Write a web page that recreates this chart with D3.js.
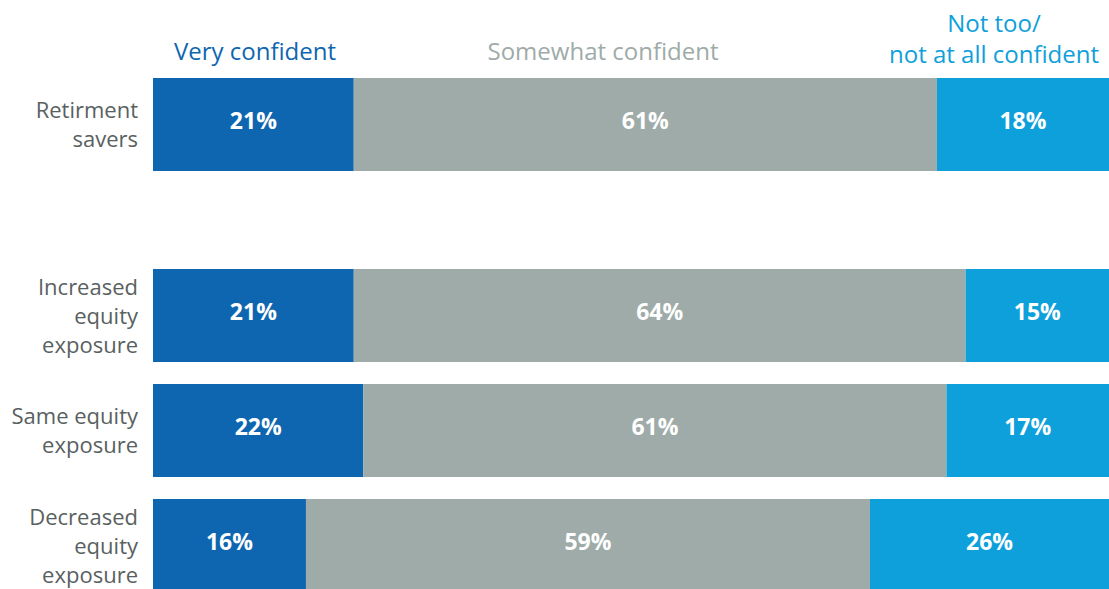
<!DOCTYPE html>
<html>
<head>
<meta charset="utf-8">
<script src="https://cdn.jsdelivr.net/npm/d3@7"></script>
<style>
  html, body { margin: 0; padding: 0; background: #fff; overflow: hidden; }
  svg { display: block; }
  text { font-family: "Open Sans", "Liberation Sans", sans-serif; }
</style>
</head>
<body>
<svg id="chart" width="1109" height="589"></svg>
<script>
// Row labels (multi-line) and confidence shares per row
const categories = [
  ["Retirment", "savers"],
  ["Increased", "equity", "exposure"],
  ["Same equity", "exposure"],
  ["Decreased", "equity", "exposure"]
];
const seriesKeys = ["very", "somewhat", "notToo"];
const seriesNames = [["Very confident"], ["Somewhat confident"], ["Not too/", "not at all confident"]];
const veryConfident = [21, 21, 22, 16];
const somewhatConfident = [61, 64, 61, 59];
const notTooConfident = [18, 15, 17, 26];

const colors = ["#0f66b0", "#9eaba8", "#0ea0db"];

const rows = categories.map((c, i) => ({
  id: i,
  label: c,
  very: veryConfident[i],
  somewhat: somewhatConfident[i],
  notToo: notTooConfident[i]
}));

const W = 1109, H = 589;
const svg = d3.select("#chart");
const left = 153, right = 1109;
const groupGap = 76;

svg.append("defs").append("clipPath").attr("id", "plot-clip")
  .append("rect").attr("x", left).attr("y", 0).attr("width", right - left).attr("height", H);

// Shares in percentage points across the plot width
const x = d3.scaleLinear().domain([0, 100]).range([left, right]);
const y = d3.scaleBand()
  .domain(rows.map(d => d.id))
  .range([78, 78 + 115 * (4 - 22 / 115)])
  .paddingInner(22 / 115)
  .paddingOuter(0);
const rowY = id => y(id) + (id > 0 ? groupGap : 0);

const stack = d3.stack().keys(seriesKeys);
const layers = stack(rows);

const plot = svg.append("g").attr("clip-path", "url(#plot-clip)");

const layerG = plot.selectAll("g.layer")
  .data(layers)
  .join("g")
  .attr("class", "layer")
  .attr("fill", (d, i) => colors[i]);

layerG.selectAll("rect")
  .data(d => d)
  .join("rect")
  .attr("x", d => x(d[0]))
  .attr("y", d => rowY(d.data.id))
  .attr("width", d => x(d[1]) - x(d[0]))
  .attr("height", y.bandwidth());

layerG.selectAll("text")
  .data((d) => d.map(s => ({ s, key: d.key })))
  .join("text")
  .attr("x", d => (x(d.s[0]) + Math.min(x(d.s[1]), right)) / 2)
  .attr("y", d => rowY(d.s.data.id) + y.bandwidth() / 2 + 4)
  .attr("text-anchor", "middle")
  .attr("fill", "#fff")
  .attr("font-size", 23)
  .attr("font-weight", 700)
  .text(d => d.s.data[d.key] + "%");

// Row labels, right aligned, vertically centred on each bar
const lineH = 29;
const catText = svg.selectAll("text.cat")
  .data(rows)
  .join("text")
  .attr("class", "cat")
  .attr("text-anchor", "end")
  .attr("fill", "#59615f")
  .attr("font-size", 22);
catText.selectAll("tspan")
  .data(d => d.label.map((t, i) => ({ t, i, n: d.label.length, id: d.id })))
  .join("tspan")
  .attr("x", 138)
  .attr("y", d => rowY(d.id) + y.bandwidth() / 2 + (d.i - (d.n - 1) / 2) * lineH + 8)
  .text(d => d.t);

// Column headers
const headerX = [255, 603, 994];
const headerBaseline = [60, 60, 63];
const head = svg.selectAll("text.head")
  .data(seriesNames)
  .join("text")
  .attr("class", "head")
  .attr("text-anchor", "middle")
  .attr("font-size", 24)
  .attr("fill", (d, i) => colors[i]);
head.selectAll("tspan")
  .data((d, j) => d.map((t, i) => ({ t, i, n: d.length, j })))
  .join("tspan")
  .attr("x", d => headerX[d.j])
  .attr("y", d => headerBaseline[d.j] - (d.n - 1 - d.i) * 31)
  .text(d => d.t);
</script>
</body>
</html>
